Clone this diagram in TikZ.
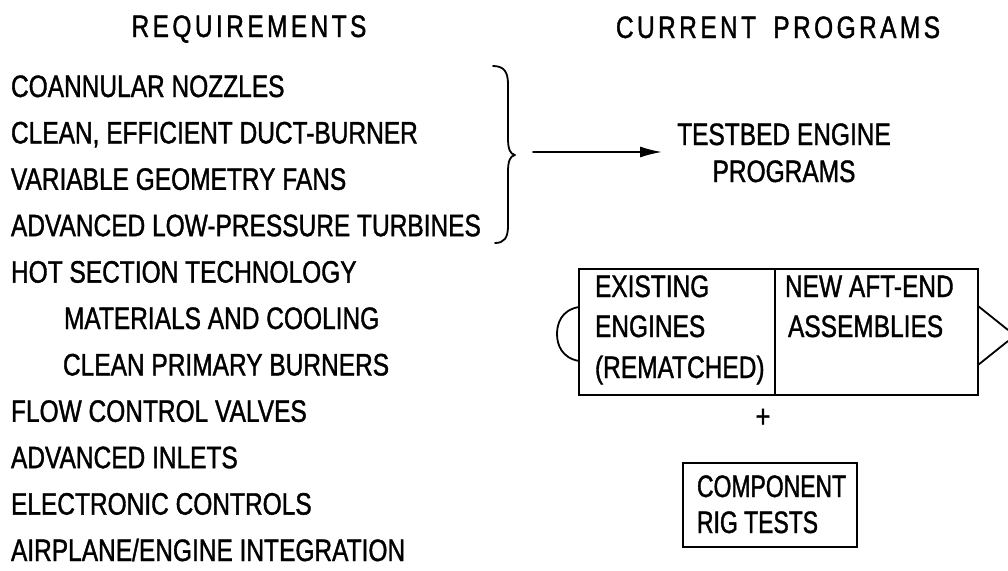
\documentclass[tikz,border=0pt]{standalone}
\usepackage{fontspec}
\setmainfont{Liberation Sans}[FakeStretch=0.79,FakeBold=1.2]
\newfontfamily\hdfont{Liberation Sans}[FakeStretch=0.79,FakeBold=1.2,LetterSpace=11]
\newfontfamily\narrowfont{Liberation Sans}[FakeStretch=0.74,FakeBold=1.2]
\usetikzlibrary{arrows.meta}
\begin{document}
\begin{tikzpicture}[x=1pt,y=-1pt,
  txt/.style={anchor=base west, inner sep=0pt, outer sep=0pt, font=\fontsize{31}{37}\selectfont},
  ntxt/.style={txt, font=\narrowfont\fontsize{31}{37}\selectfont},
  ctxt/.style={txt, anchor=base},
  hd/.style={anchor=base, inner sep=0pt, outer sep=0pt, font=\hdfont\fontsize{31}{37}\selectfont},
  boxline/.style={draw, line width=1.8pt, inner sep=0pt, outer sep=0pt},
  ln/.style={line width=1.8pt, line cap=round, line join=round},
  arr/.style={ln, -{Latex[length=22pt,width=11pt]}},
]
\useasboundingbox[fill=white] (0,0) rectangle (1008,570);

% headers
\node[hd] (req) at (249,37) {REQUIREMENTS};
\node[hd] (cur) at (778,38) {CURRENT\hspace{7pt} PROGRAMS};

% requirement list
\node[txt] (r1)  at (11,97)    {COANNULAR NOZZLES};
\node[txt] (r2)  at (11,143.4) {CLEAN, EFFICIENT DUCT-BURNER};
\node[txt] (r3)  at (11,189.8) {VARIABLE GEOMETRY FANS};
\node[txt] (r4)  at (11,236.2) {ADVANCED LOW-PRESSURE TURBINES};
\node[txt] (r5)  at (11,282.6) {HOT SECTION TECHNOLOGY};
\node[txt] (r6)  at (64,329)   {MATERIALS AND COOLING};
\node[txt] (r7)  at (63,375.4) {CLEAN PRIMARY BURNERS};
\node[txt] (r8)  at (11,421.8) {FLOW CONTROL VALVES};
\node[txt] (r9)  at (11,468.2) {ADVANCED INLETS};
\node[txt] (r10) at (11,514.6) {ELECTRONIC CONTROLS};
\node[txt] (r11) at (11,561)   {AIRPLANE/ENGINE INTEGRATION};

% brace
\coordinate (btop) at (493,66);
\coordinate (btip) at (515,155);
\coordinate (bbot) at (495,243);
\draw[ln] (btop) .. controls (504,66) and (508,72) .. (508,84)
  -- (508,138) .. controls (508,149) and (510,154) .. (btip)
  .. controls (510,156) and (508,161) .. (508,172)
  -- (508,226) .. controls (508,238) and (504,243) .. (bbot);

% arrow
\coordinate (a1) at (533,152);
\coordinate (a2) at (662,152);
\draw[arr] (a1) -- (a2);

% testbed engine programs
\node[ctxt] (tb1) at (784,145) {TESTBED ENGINE};
\node[ctxt] (tb2) at (784,182) {PROGRAMS};

% engine boxes
\node[boxline, minimum width=196pt, minimum height=126pt] (eng1) at (677,332) {};
\node[boxline, minimum width=203pt, minimum height=126pt] (eng2) at (876.5,332) {};
\node[txt] (e1) at (595,297) {EXISTING};
\node[txt] (e2) at (595,337) {ENGINES};
\node[txt] (e3) at (595,378) {(REMATCHED)};
\node[txt] (n1) at (785,297) {NEW AFT-END};
\node[txt] (n2) at (788,337) {ASSEMBLIES};

% left arc (inlet) and right nozzle lines
\coordinate (la) at (579,307);
\coordinate (lb) at (579,361);
\draw[ln] (la) .. controls (561,310) and (557,324) .. (557,334)
  .. controls (557,345) and (562,358) .. (lb);
\coordinate (ra) at (978,306);
\coordinate (rb) at (978,365);
\coordinate (rc) at (1008,330);
\coordinate (rd) at (1008,341);
\draw[ln] (ra) -- (rc);
\draw[ln] (rb) -- (rd);

% plus
\node[inner sep=0pt, font=\fontsize{32}{32}\selectfont] (plus) at (763,418) {+};

% component rig tests
\node[boxline, minimum width=174pt, minimum height=84pt] (comp) at (770,505) {};
\node[ntxt] (c1) at (697,497) {COMPONENT};
\node[ntxt] (c2) at (697,533) {RIG TESTS};
\end{tikzpicture}
\end{document}
